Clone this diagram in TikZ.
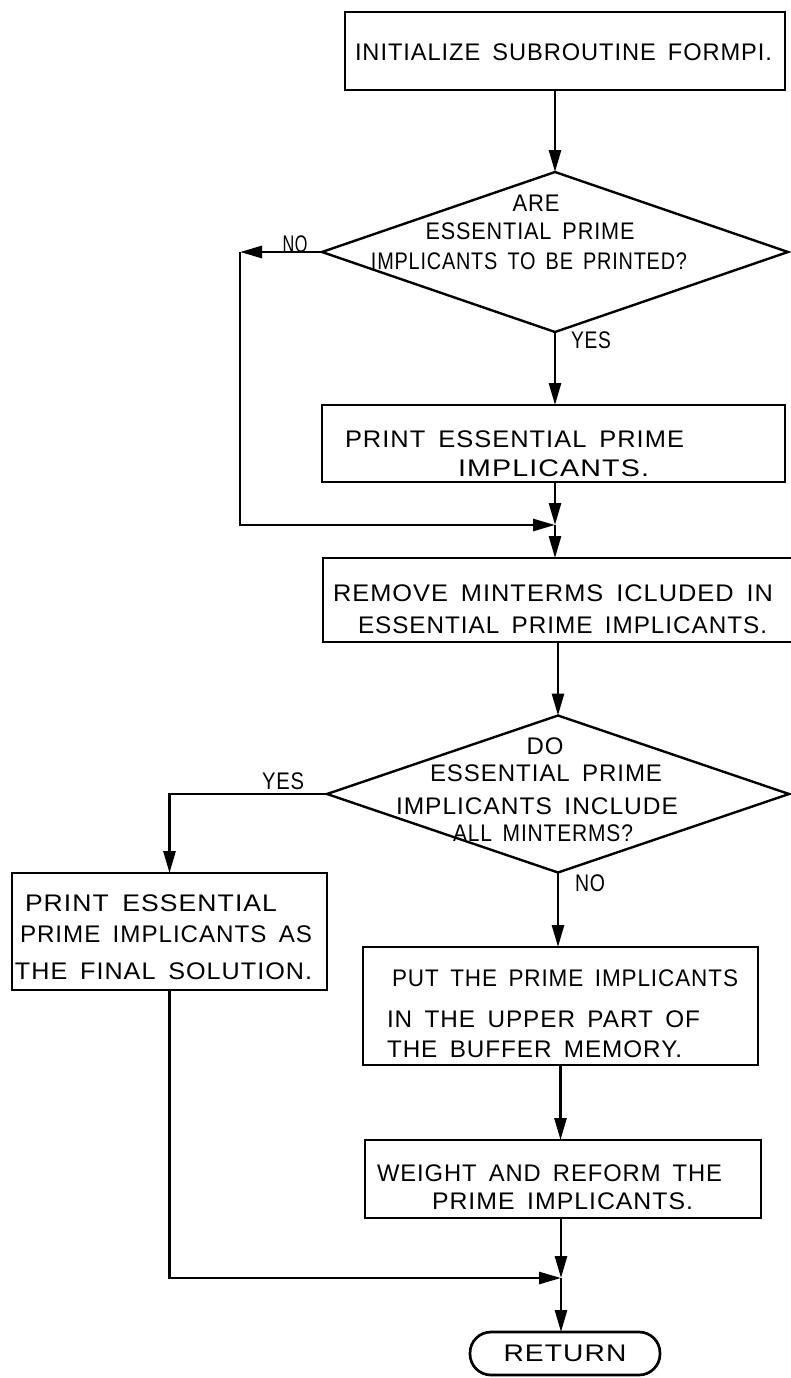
\documentclass[tikz,border=0pt]{standalone}
\usepackage{fontspec}
\setmainfont{Liberation Sans}[LetterSpace=4,WordSpace=1.6]
\usepackage{graphicx}
\usetikzlibrary{arrows.meta,shapes.geometric}
% one line of lettering, stretched sideways to a given width (in pt)
\newcommand\fitline[2]{\resizebox{#1pt}{\height}{#2}}

\begin{document}
\begin{tikzpicture}[x=1pt,y=-1pt,
  every node/.style={inner sep=0pt, outer sep=0pt},
  proc/.style={draw, line width=2.7pt, anchor=north west},
  decision/.style={draw, diamond, line width=2.4pt},
  txt/.style={anchor=base west, font=\fontsize{24}{24}\selectfont},
  ctxt/.style={anchor=base, font=\fontsize{24}{24}\selectfont},
  flow/.style={line width=2.7pt, -{Triangle[length=22pt,width=12pt]}},
]
\fill[white] (0,0) rectangle (790,1378);
\useasboundingbox (0,0) rectangle (790,1378);

% process boxes
\node[proc, minimum width=440pt, minimum height=78pt]  (b1) at (345,12) {};
\node[proc, minimum width=463pt, minimum height=77pt]  (b2) at (322,405) {};
\node[proc, minimum width=472pt, minimum height=84pt]  (b3) at (323,558) {};
\node[proc, minimum width=315pt, minimum height=117pt] (lb) at (12,873) {};
\node[proc, minimum width=395pt, minimum height=118pt] (pb) at (363,947) {};
\node[proc, minimum width=396pt, minimum height=78pt]  (wb) at (365,1140) {};

% decisions
\node[decision, minimum width=466pt, minimum height=160pt] (d1) at (555,252) {};
\node[decision, minimum width=462pt, minimum height=157pt] (d2) at (558,794) {};

% terminal
\node[draw, line width=2.7pt, rounded corners=21pt, minimum width=190pt,
      minimum height=43pt, font=\fontsize{24}{24}\selectfont]
      (ret) at (565,1353.5) {\fitline{123}{RETURN}};

% junction points
\coordinate (lx) at (240,0);
\coordinate (j1) at (555,525);
\coordinate (j2) at (561,1278);

% connectors
\draw[flow] (d1.north |- b1.south) -- (d1.north);
\draw[flow] (d1.west) -- (d1.west -| lx);
\draw[flow] (d1.west -| lx) -- (lx |- j1) -- (j1);
\draw[flow] (d1.south) -- (d1.south |- b2.north);
\draw[flow] (b2.south -| j1) -- (j1);
\draw[flow] (j1) -- (j1 |- b3.north);
\draw[flow] (d2.north |- b3.south) -- (d2.north);
\draw[flow] (d2.west) -- (lb.north |- d2.west) -- (lb.north);
\draw[flow] (d2.south) -- (d2.south |- pb.north);
\draw[flow] (pb.south) -- (pb.south |- wb.north);
\draw[flow] (wb.south -| j2) -- (j2);
\draw[flow] (lb.south) -- (lb.south |- j2) -- (j2);
\draw[flow] (j2) -- (j2 |- ret.north);

% lettering
\node[txt] (t1) at (355,61) {\fitline{417}{INITIALIZE SUBROUTINE FORMPI.}};

\node[ctxt] (d1a) at (536,211) {\fitline{47}{ARE}};
\node[ctxt] (d1b) at (530,239) {\fitline{209}{ESSENTIAL PRIME}};
\node[ctxt] (d1c) at (529,269) {\fitline{316}{IMPLICANTS TO BE PRINTED?}};
\node[ctxt] (no1) at (295,252) {\fitline{25}{NO}};
\node[ctxt] (yes1) at (591,348) {\fitline{40}{YES}};

\node[txt] (b2a) at (345,447) {\fitline{339}{PRINT ESSENTIAL PRIME}};
\node[txt] (b2b) at (458,476) {\fitline{191}{IMPLICANTS.}};

\node[txt] (b3a) at (333,601) {\fitline{440}{REMOVE MINTERMS ICLUDED IN}};
\node[txt] (b3b) at (358,633) {\fitline{409}{ESSENTIAL PRIME IMPLICANTS.}};

\node[ctxt] (d2a) at (545,754) {\fitline{37}{DO}};
\node[ctxt] (d2b) at (546,781) {\fitline{232}{ESSENTIAL PRIME}};
\node[ctxt] (d2c) at (537,814) {\fitline{282}{IMPLICANTS INCLUDE}};
\node[ctxt] (d2d) at (543,841) {\fitline{180}{ALL MINTERMS?}};
\node[ctxt] (yes2) at (283,789) {\fitline{42}{YES}};
\node[ctxt] (no2) at (590,891) {\fitline{30}{NO}};

\node[txt] (lba) at (25,911) {\fitline{252}{PRINT ESSENTIAL}};
\node[txt] (lbb) at (20,942) {\fitline{292}{PRIME IMPLICANTS AS}};
\node[txt] (lbc) at (15,979) {\fitline{297}{THE FINAL SOLUTION.}};

\node[txt] (pba) at (392,986) {\fitline{346}{PUT THE PRIME IMPLICANTS}};
\node[txt] (pbb) at (387,1027) {\fitline{313}{IN THE UPPER PART OF}};
\node[txt] (pbc) at (387,1057) {\fitline{295}{THE BUFFER MEMORY.}};

\node[txt] (wba) at (377,1181) {\fitline{345}{WEIGHT AND REFORM THE}};
\node[txt] (wbb) at (432,1209) {\fitline{261}{PRIME IMPLICANTS.}};
\end{tikzpicture}
\end{document}
